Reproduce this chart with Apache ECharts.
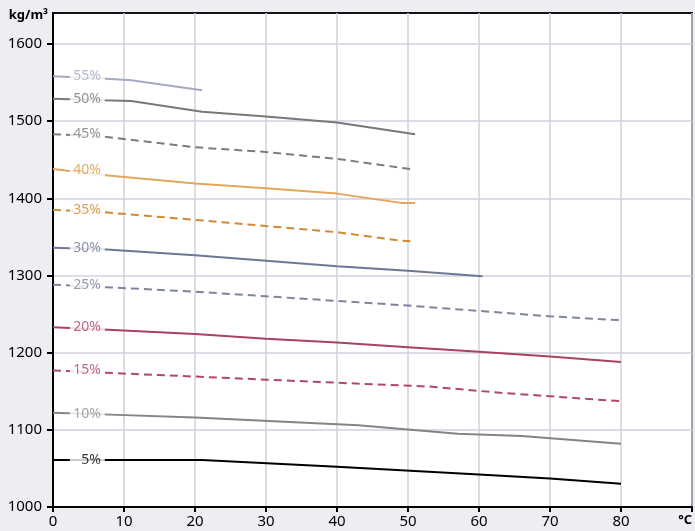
<!DOCTYPE html>
<html>
<head>
<meta charset="utf-8">
<script src="https://cdn.jsdelivr.net/npm/echarts@6/dist/echarts.min.js"></script>
<style>
  html, body { margin: 0; padding: 0; background: #ededf2; }
  #chart { width: 695px; height: 531px; }
</style>
</head>
<body>
<div id="chart"></div>
<script>
// temperatures (°C) and densities (kg/m³) per concentration
const t5 = [0, 21, 40, 60, 70, 80];
const d5 = [1061, 1061, 1052, 1042, 1037, 1030];
const t10 = [0, 7, 20, 43, 57, 66, 80];
const d10 = [1122, 1120, 1116, 1106, 1095, 1092, 1082];
const t15 = [0, 7, 20, 30, 40, 53, 63, 80];
const d15 = [1177, 1174, 1169, 1165, 1161, 1156, 1148, 1137];
const t20 = [0, 7, 20, 30, 40, 50, 60, 70, 80];
const d20 = [1233, 1230, 1224, 1218, 1213, 1207, 1201, 1195, 1188];
const t25 = [0, 7, 20, 30, 40, 50, 60, 70, 80];
const d25 = [1288, 1285, 1279, 1273, 1267, 1261, 1254, 1247, 1242];
const t30 = [0, 7, 20, 30, 40, 50, 60.5];
const d30 = [1336, 1334, 1326, 1319, 1312, 1306, 1299];
const t35 = [0, 7, 20, 30, 40, 49, 51];
const d35 = [1385, 1382, 1372, 1364, 1356, 1345, 1344];
const t40 = [0, 7, 20, 30, 40, 49, 51];
const d40 = [1438, 1430, 1419, 1413, 1406, 1394, 1394];
const t45 = [0, 7, 20, 30, 40, 51];
const d45 = [1483, 1480, 1466, 1460, 1451, 1437];
const t50 = [0, 7, 11, 21, 30, 40, 51];
const d50 = [1529, 1527, 1526, 1512, 1506, 1498, 1483];
const t55 = [0, 7, 11, 21];
const d55 = [1558, 1555, 1553, 1540];

const names = ['5%', '10%', '15%', '20%', '25%', '30%', '35%', '40%', '45%', '50%', '55%'];
const temps = [t5, t10, t15, t20, t25, t30, t35, t40, t45, t50, t55];
const dens = [d5, d10, d15, d20, d25, d30, d35, d40, d45, d50, d55];
// density where each curve label sits (left end of the curve)
const labelDens = [1061, 1121, 1177, 1233, 1288, 1336, 1385, 1436, 1483, 1529, 1558];

const yTicks = [1000, 1100, 1200, 1300, 1400, 1500, 1600];
const xTicks = [0, 10, 20, 30, 40, 50, 60, 70, 80, 90];

const colors = ['#000000', '#848484', '#b04869', '#a8425f', '#7d849e', '#6e7794',
                '#d08a34', '#e2a65c', '#7c7c7c', '#787878', '#a4a9c2'];
const labelColors = ['#000000', '#8c8c8c', '#b04869', '#a8425f', '#7d849e', '#6e7794',
                     '#d08a34', '#d9963f', '#7c7c7c', '#787878', '#a4a9c2'];
const dashed = [false, false, true, false, true, false, true, false, true, false, false];

const LABEL_T = 7.3;

const chart = echarts.init(document.getElementById('chart'));

const series = names.map(function (n, i) {
    return {
        name: n,
        type: 'line',
        symbol: 'none',
        z: 2,
        lineStyle: {
            color: colors[i],
            width: 2,
            type: dashed[i] ? [8, 5] : 'solid'
        },
        data: temps[i].map(function (t, k) { return [t, dens[i][k]]; })
    };
});

series.push({
    type: 'scatter',
    z: 5,
    symbolSize: 0.1,
    itemStyle: { color: 'transparent' },
    silent: true,
    data: names.map(function (n, i) {
        return {
            value: [LABEL_T, labelDens[i]],
            label: { formatter: n, color: labelColors[i] }
        };
    }),
    label: {
        show: true,
        position: 'inside',
        align: 'right',
        verticalAlign: 'middle',
        width: 30,
        padding: [1, 4, 1, 1],
        backgroundColor: '#ffffff',
        fontFamily: 'Noto Sans',
        fontSize: 14
    }
});

const option = {
    backgroundColor: '#ededf2',
    animation: false,
    grid: {
        left: 53,
        right: 1,
        top: 13,
        bottom: 24,
        show: true,
        backgroundColor: '#ffffff',
        borderColor: '#111111',
        borderWidth: 2
    },
    xAxis: {
        type: 'value',
        min: 0,
        max: 90,
        interval: 10,
        axisLine: { lineStyle: { color: '#000', width: 2 } },
        axisTick: { show: true, length: 5, lineStyle: { color: '#000', width: 2 } },
        axisLabel: {
            customValues: xTicks,
            margin: 7,
            color: '#000',
            fontFamily: 'Noto Sans',
            fontSize: 15,
            alignMaxLabel: 'right',
            formatter: function (v) { return v === 90 ? '{u|°C}' : String(v); },
            rich: { u: { fontWeight: 'bold', fontSize: 13, fontFamily: 'Noto Sans' } }
        },
        splitLine: { show: true, lineStyle: { color: '#cfd1dc', width: 1.5 } }
    },
    yAxis: {
        type: 'value',
        min: 1000,
        max: 1640,
        interval: 100,
        name: 'kg/m³',
        nameLocation: 'end',
        nameGap: -2,
        nameTextStyle: {
            align: 'right',
            verticalAlign: 'middle',
            padding: [0, 5, 0, 0],
            fontWeight: 'bold',
            fontSize: 13,
            color: '#000',
            fontFamily: 'Noto Sans'
        },
        axisLine: { show: true, lineStyle: { color: '#000', width: 2 } },
        axisTick: { show: true, length: 6, customValues: yTicks, lineStyle: { color: '#000', width: 2 } },
        axisLabel: {
            customValues: yTicks,
            margin: 11,
            color: '#000',
            fontFamily: 'Noto Sans',
            fontSize: 15,
            formatter: function (v) { return String(v); }
        },
        splitLine: { show: true, lineStyle: { color: '#cfd1dc', width: 1.5 } }
    },
    series: series
};

chart.setOption(option);
</script>
</body>
</html>
